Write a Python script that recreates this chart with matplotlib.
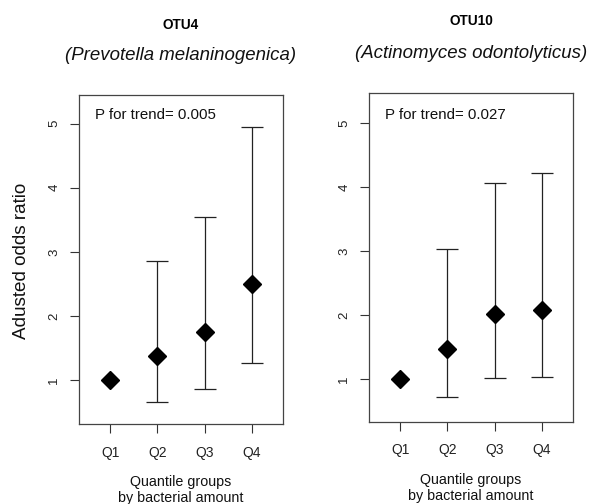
import matplotlib
matplotlib.use("Agg")
import matplotlib.pyplot as plt

plt.rcParams['font.family'] = ['Liberation Sans', 'DejaVu Sans']

groups = ["Q1", "Q2", "Q3", "Q4"]
otu4_or = [1.00, 1.37, 1.75, 2.50]
otu4_lo = [1.00, 0.66, 0.86, 1.27]
otu4_hi = [1.00, 2.85, 3.55, 4.95]
otu10_or = [1.00, 1.47, 2.02, 2.08]
otu10_lo = [1.00, 0.71, 1.01, 1.03]
otu10_hi = [1.00, 3.03, 4.07, 4.22]
titles = ["OTU4", "OTU10"]
species = ["(Prevotella melaninogenica)", "(Actinomyces odontolyticus)"]
ptrend = ["P for trend= 0.005", "P for trend= 0.027"]
yticks = [1, 2, 3, 4, 5]

W, H = 589, 504
fig = plt.figure(figsize=(W / 100, H / 100), dpi=100)

panels = [
    dict(rect=[79 / W, (H - 424) / H, 204 / W, 329 / H],
         orv=otu4_or, lo=otu4_lo, hi=otu4_hi, ylim=(0.31, 5.45),
         t_y=25, s_y=55, xl1=482, xl2=498, ylab=True, pty=0.94),
    dict(rect=[369 / W, (H - 421.7) / H, 204 / W, 328.4 / H],
         orv=otu10_or, lo=otu10_lo, hi=otu10_hi, ylim=(0.33, 5.47),
         t_y=21, s_y=53, xl1=480, xl2=496, ylab=False, pty=0.934),
]

for i, p in enumerate(panels):
    ax = fig.add_axes(p['rect'])
    x = list(range(1, len(groups) + 1))
    yerr_lo = [o - l for o, l in zip(p['orv'], p['lo'])]
    yerr_hi = [h - o for o, h in zip(p['orv'], p['hi'])]
    ax.errorbar(x[1:], p['orv'][1:], yerr=[yerr_lo[1:], yerr_hi[1:]],
                fmt='none', ecolor='#222222', elinewidth=0.9, capsize=8,
                capthick=0.9, zorder=2)
    ax.plot(x, p['orv'], linestyle='none', marker='D', markersize=8.8,
            color='black', zorder=3)
    ax.set_xlim(0.34, 4.66)
    ax.set_ylim(*p['ylim'])
    ax.set_xticks(x)
    ax.set_xticklabels(groups, fontsize=10)
    ax.set_yticks(yticks)
    ax.set_yticklabels([str(v) for v in yticks], fontsize=9.5, rotation=90,
                       va='center')
    ax.tick_params(axis='both', direction='out', length=6.5, width=0.8,
                   color='#333333', labelcolor='#222222')
    ax.tick_params(axis='x', pad=9)
    ax.tick_params(axis='y', pad=7)
    for sp in ax.spines.values():
        sp.set_color('#444444')
        sp.set_linewidth(0.9)
    ax.text(0.078, p['pty'], ptrend[i], transform=ax.transAxes, fontsize=10.8,
            ha='left', va='center', color='#111111')
    cx = p['rect'][0] + p['rect'][2] / 2
    fig.text(cx, 1 - p['t_y'] / H, titles[i], fontsize=9.8, fontweight='bold',
             ha='center', va='center')
    fig.text(cx, 1 - p['s_y'] / H, species[i], fontsize=13.4, style='italic',
             ha='center', va='center', color='#111111')
    fig.text(cx, 1 - p['xl1'] / H, "Quantile groups", fontsize=10.3,
             ha='center', va='center', color='#111111')
    fig.text(cx, 1 - p['xl2'] / H, "by bacterial amount", fontsize=10.3,
             ha='center', va='center', color='#111111')
    if p['ylab']:
        fig.text(22 / W, 1 - 261 / H, "Adusted odds ratio", fontsize=13.6,
                 rotation=90, ha='center', va='center', color='#111111')

fig.savefig("out.png", dpi=100)
